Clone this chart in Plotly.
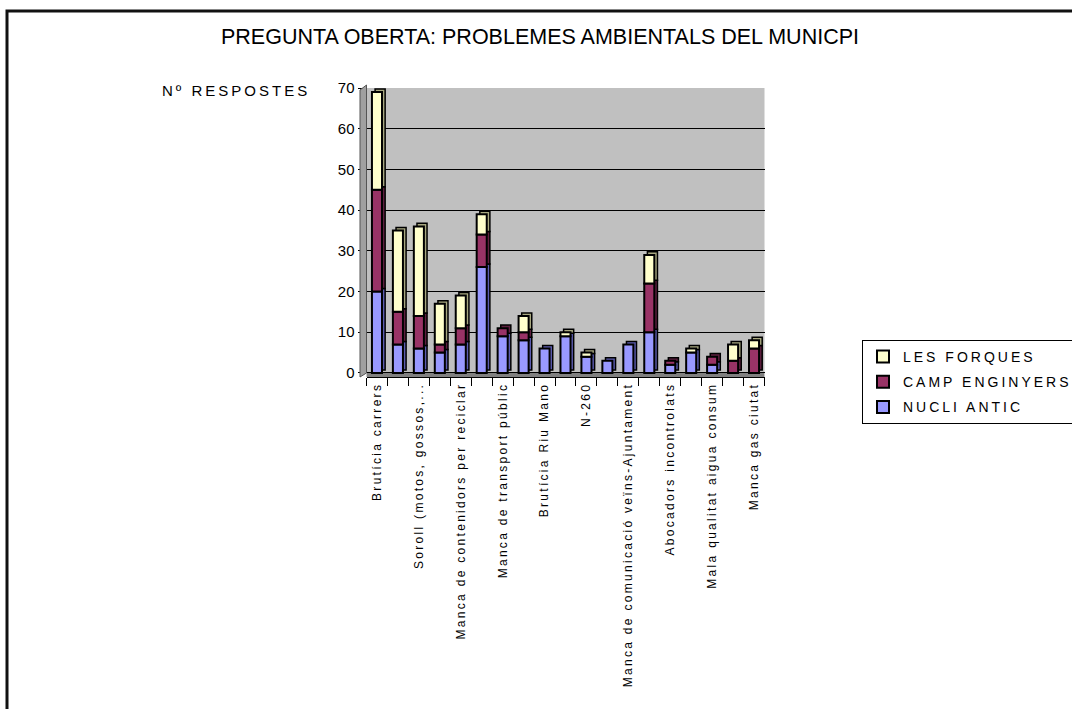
import plotly.graph_objects as go

# ---- data ----
tick_labels = [
    "Brutícia carrers", "Soroll (motos, gossos,...", "Manca de contenidors per reciclar",
    "Manca de transport públic", "Brutícia Riu Mano", "N-260",
    "Manca de comunicació veïns-Ajuntament", "Abocadors incontrolats",
    "Mala qualitat aigua consum", "Manca gas ciutat",
]
nucli_antic = [20, 7, 6, 5, 7, 26, 9, 8, 6, 9, 4, 3, 7, 10, 2, 5, 2, 0, 0]
camp_enginyers = [25, 8, 8, 2, 4, 8, 2, 2, 0, 0, 0, 0, 0, 12, 1, 0, 2, 3, 6]
les_forques = [24, 20, 22, 10, 8, 5, 0, 4, 0, 1, 1, 0, 0, 7, 0, 1, 0, 4, 2]

series = [
    ("NUCLI ANTIC", nucli_antic, "#9999FF", "#5C5CB0", 3),
    ("CAMP ENGINYERS", camp_enginyers, "#993366", "#5E1F3F", 2),
    ("LES FORQUES", les_forques, "#FFFFCC", "#A8A880", 1),
]

W, H = 1072, 709
n = len(nucli_antic)
xs = list(range(n))
BW = 0.48
DX = 0.15   # depth offset in category units
DY = 0.75   # depth offset in value units

def px(x):
    return x / W

def py(y):
    return 1 - y / H

fig = go.Figure()

bases = []
acc = [0] * n
for name, vals, c, d, rank in series:
    bases.append(list(acc))
    acc = [a + v for a, v in zip(acc, vals)]

# depth (side/top faces) drawn first
for (name, vals, c, d, rank), base in zip(series, bases):
    yv = [v if v > 0 else None for v in vals]
    fig.add_trace(go.Bar(
        x=xs, y=yv, base=[b + DY for b in base], width=BW, offset=-BW / 2 + DX,
        marker=dict(color=d, line=dict(color="black", width=1.5)),
        showlegend=False, hoverinfo="skip",
    ))

# front faces
for (name, vals, c, d, rank), base in zip(series, bases):
    yv = [v if v > 0 else None for v in vals]
    fig.add_trace(go.Bar(
        x=xs, y=yv, base=base, width=BW, offset=-BW / 2,
        name='<span style="letter-spacing:3px">' + name + '</span>',
        legendgroup=name, legendrank=rank,
        marker=dict(color=c, line=dict(color="black", width=2)),
    ))

x_l, x_r = 366.5, 764.5
y_top, y_bot = 88, 377

fig.update_layout(
    template="none",
    width=W, height=H,
    autosize=False,
    margin=dict(l=0, r=0, t=0, b=0, pad=0, autoexpand=False),
    paper_bgcolor="white",
    plot_bgcolor="#C0C0C0",
    barmode="overlay",
    font=dict(family="Arial, Liberation Sans, sans-serif", color="black"),
    xaxis=dict(
        domain=[px(x_l), px(x_r)],
        range=[-0.5, n - 0.5],
        automargin=False,
        tickmode="array",
        tickvals=list(range(0, n, 2)),
        ticktext=['<span style="letter-spacing:2.3px">' + t + '</span>' for t in tick_labels],
        tickangle=-90,
        ticks="",
        tickfont=dict(size=12),
        showgrid=False,
        showline=True, linecolor="black", linewidth=1,
        zeroline=False,
        minor=dict(tickmode="linear", tick0=-0.5, dtick=1, ticks="outside",
                   ticklen=8, tickcolor="black", tickwidth=1, showgrid=False),
    ),
    yaxis=dict(
        domain=[py(y_bot), py(y_top)],
        range=[-1, 70],
        automargin=False,
        tickmode="array",
        tickvals=[0, 10, 20, 30, 40, 50, 60, 70],
        ticks="outside", ticklen=8, tickcolor="black",
        tickfont=dict(size=15),
        showgrid=True, gridcolor="black", gridwidth=1,
        zeroline=False,
        showline=False,
    ),
    legend=dict(
        x=px(862), y=py(340), xanchor="left", yanchor="top",
        bgcolor="white", bordercolor="black", borderwidth=1,
        font=dict(size=14),
        traceorder="grouped",
        tracegroupgap=4,
        itemwidth=30,
        itemclick=False,
    ),
    showlegend=True,
)

shapes = [
    dict(type="rect", xref="paper", yref="paper", x0=px(7), x1=1.01,
         y0=-0.01, y1=py(11), line=dict(color="#111", width=3), fillcolor="rgba(0,0,0,0)"),
    dict(type="rect", xref="x", yref="y", x0=-0.5, x1=n - 0.5, y0=-1, y1=0,
         line=dict(width=0), fillcolor="#808080", layer="below"),
    dict(type="path", xref="paper", yref="paper",
         path=f"M {px(360)} {py(377)} L {px(366.5)} {py(373)} L {px(366.5)} {py(85)} L {px(360)} {py(90)} Z",
         line=dict(color="#555", width=1), fillcolor="#A0A0A0"),
]
fig.update_layout(shapes=shapes)

fig.add_annotation(
    text="PREGUNTA OBERTA: PROBLEMES AMBIENTALS DEL MUNICPI",
    xref="paper", yref="paper", x=px(540), y=py(37), xanchor="center", yanchor="middle",
    showarrow=False, font=dict(size=21.5),
)
fig.add_annotation(
    text='<span style="letter-spacing:3px">Nº RESPOSTES</span>',
    xref="paper", yref="paper", x=px(312), y=py(90), xanchor="right", yanchor="middle",
    showarrow=False, font=dict(size=15),
)

fig.write_html(
    "out.html",
    config=dict(displayModeBar=False, responsive=False),
    post_script="document.documentElement.style.margin='0';document.body.style.margin='0';document.body.style.padding='0';document.body.style.overflow='hidden';",
)
